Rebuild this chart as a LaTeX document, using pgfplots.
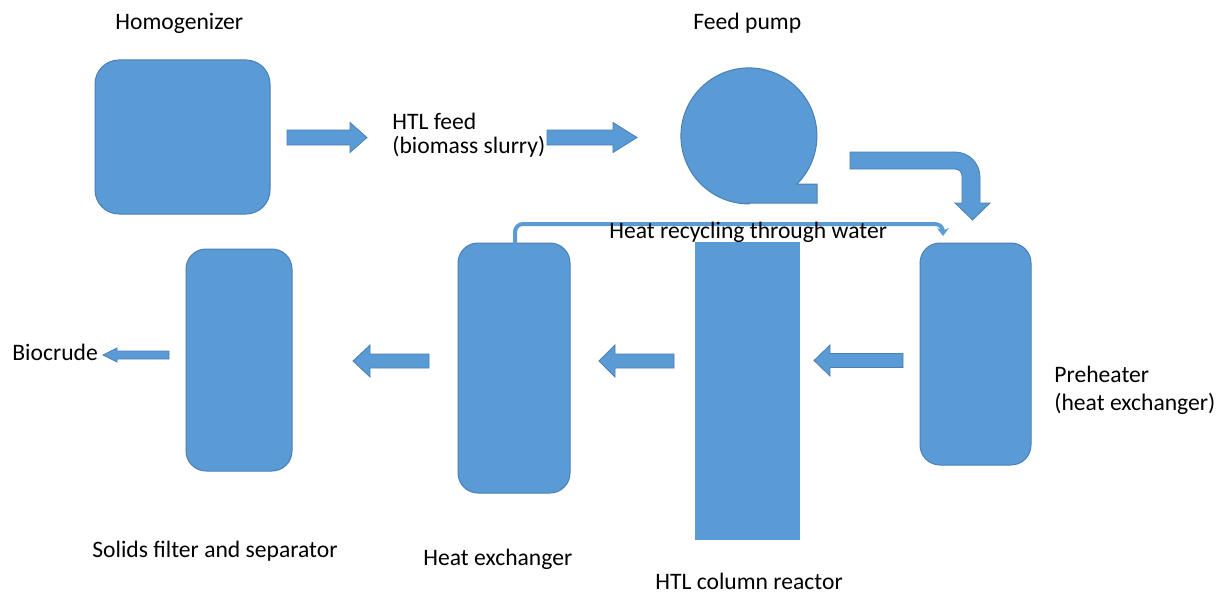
\documentclass[border=0pt]{standalone}
\usepackage{pgfplots}
\pgfplotsset{compat=1.18}
\usepackage{fontspec}
\setmainfont{Carlito}
\usetikzlibrary{arrows.meta}
\definecolor{boxblue}{HTML}{5B9BD5}
\definecolor{boxedge}{HTML}{4A7FB5}

% pixel-like frame: 1 unit = 0.5bp, y runs downward
\begin{document}
\begin{tikzpicture}[font=\fontsize{11.8bp}{14bp}\selectfont]
\begin{axis}[
  scale only axis, width=614bp, height=298.5bp,
  xmin=0, xmax=1228, ymin=0, ymax=597, y dir=reverse,
  hide axis, clip=false,
]
\path (axis cs:0,0) rectangle (axis cs:1228,597);

% units
\addplot[fill=boxblue, draw=boxedge, line width=0.5bp, rounded corners=12bp]
  coordinates {(95,60) (270,60) (270,214) (95,214)} -- cycle;
\addplot[fill=boxblue, draw=boxedge, line width=0.5bp, rounded corners=10bp]
  coordinates {(186,249) (292,249) (292,471) (186,471)} -- cycle;
\addplot[fill=boxblue, draw=boxedge, line width=0.5bp, rounded corners=10bp]
  coordinates {(458,243) (570,243) (570,493) (458,493)} -- cycle;
\addplot[fill=boxblue, draw=none]
  coordinates {(695,242) (800,242) (800,540) (695,540)} -- cycle;
\addplot[fill=boxblue, draw=boxedge, line width=0.5bp, rounded corners=10bp]
  coordinates {(920,243) (1031,243) (1031,465) (920,465)} -- cycle;

% feed pump
\draw[fill=boxblue, draw=boxedge, line width=0.5bp]
  (axis cs:748,203) -- (axis cs:817,203) -- (axis cs:817,184) -- (axis cs:797,184)
  arc[start angle=-45, end angle=270, radius=34bp] -- cycle;

% straight arrows
\addplot[fill=boxblue, draw=boxedge, line width=0.4bp] coordinates
  {(367,137.5) (350,122.5) (350,130) (287,130) (287,145) (350,145) (350,152.5)} -- cycle;
\addplot[fill=boxblue, draw=boxedge, line width=0.4bp] coordinates
  {(637,137.5) (613,122.5) (613,130) (547,130) (547,145) (613,145) (613,152.5)} -- cycle;
\addplot[fill=boxblue, draw=boxedge, line width=0.4bp] coordinates
  {(353,361) (370,345) (370,354) (429,354) (429,368) (370,368) (370,377)} -- cycle;
\addplot[fill=boxblue, draw=boxedge, line width=0.4bp] coordinates
  {(599,361) (615,345) (615,354) (674,354) (674,368) (615,368) (615,377)} -- cycle;
\addplot[fill=boxblue, draw=boxedge, line width=0.4bp] coordinates
  {(814,360.5) (830,345) (830,353.5) (903,353.5) (903,367.5) (830,367.5) (830,376)} -- cycle;
\addplot[fill=boxblue, draw=boxedge, line width=0.4bp] coordinates
  {(103,355) (117,348) (117,351) (169,351) (169,359) (117,359) (117,362)} -- cycle;

% bent arrow pump -> preheater
\draw[fill=boxblue, draw=boxedge, line width=0.4bp]
  (axis cs:850,152) -- (axis cs:955,152)
  arc[start angle=90, end angle=0, radius=12.5bp]
  -- (axis cs:980,203) -- (axis cs:990,203) -- (axis cs:972.5,220) -- (axis cs:955,203)
  -- (axis cs:962,203) -- (axis cs:962,176)
  arc[start angle=0, end angle=90, radius=3.5bp]
  -- (axis cs:850,169) -- cycle;

% heat recycling line
\draw[boxblue, line width=2bp, rounded corners=4bp,
      -{Stealth[length=4bp, width=6bp]}]
  (axis cs:515,244) -- (axis cs:515,224) -- (axis cs:943,224) -- (axis cs:943,236);

% labels
\begin{scope}[every node/.style={anchor=base west, inner sep=0pt}]
\node at (axis cs:115,29.5) {Homogenizer};
\node at (axis cs:693,29.5) {Feed pump};
\node at (axis cs:392,129) {HTL feed};
\node at (axis cs:392,153) {(biomass slurry)};
\node at (axis cs:609,238) {Heat recycling through water};
\node at (axis cs:12,360) {Biocrude};
\node at (axis cs:1054,382) {Preheater};
\node at (axis cs:1054,410) {(heat exchanger)};
\node at (axis cs:92,557) {Solids filter and separator};
\node at (axis cs:423,565) {Heat exchanger};
\node at (axis cs:655,589) {HTL column reactor};
\end{scope}
\end{axis}
\end{tikzpicture}
\end{document}
